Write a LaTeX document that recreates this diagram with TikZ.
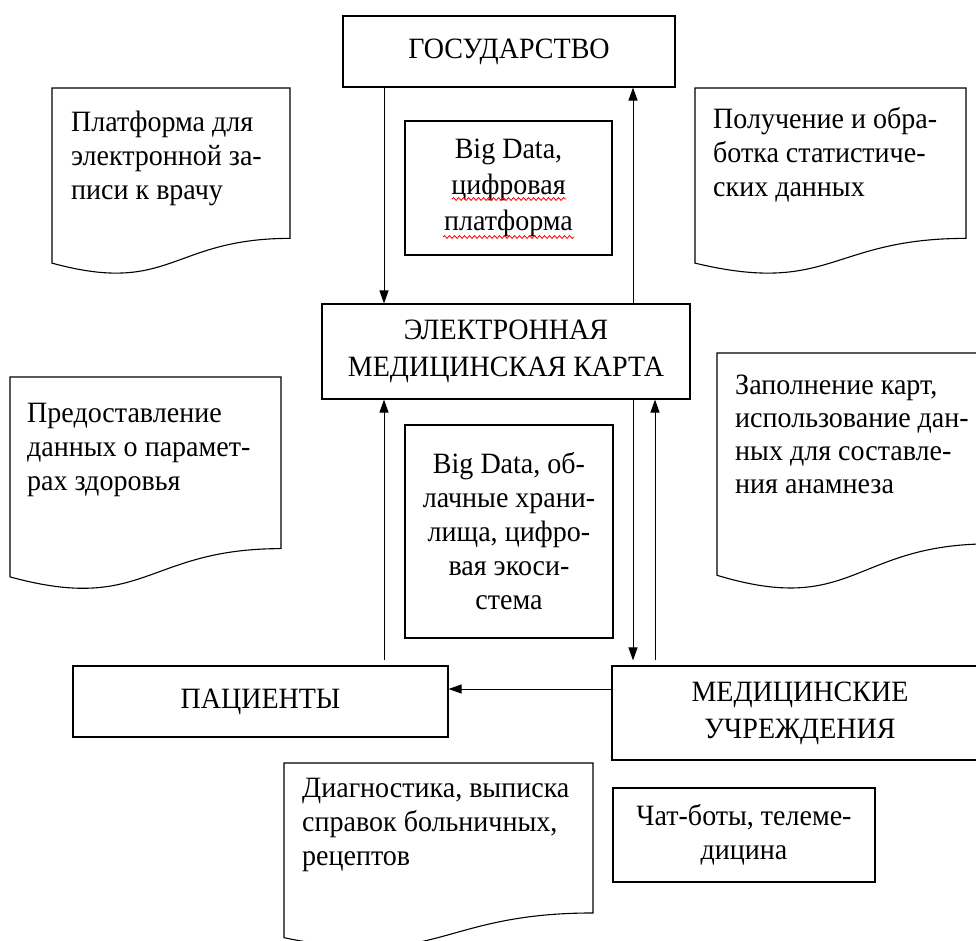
\documentclass[tikz,border=0pt]{standalone}
\usepackage{fontspec}
\setmainfont{Liberation Serif}[FakeStretch=0.95]
\usetikzlibrary{arrows.meta,decorations.pathmorphing}

\tikzset{
  every node/.style={font=\fontsize{29.5}{34}\selectfont},
  box/.style={draw, line width=1.1pt, inner sep=0pt, align=center},
  doctext/.style={anchor=north west, inner sep=0pt, align=left},
  link/.style={line width=1pt, -{Triangle[length=13pt,width=9pt]}},
  spell/.style={draw=red, line width=0.8pt, decorate,
    decoration={snake, amplitude=1.4pt, segment length=5pt}},
  docline/.style={draw, line width=1.1pt}
}

% flowchart "document" shape: x, y (top left), width, height
\newcommand{\docshape}[4]{%
  \draw[docline] (#1,#2) -- ({#1+#3},#2) -- ({#1+#3},{#2+0.802*#4})
    .. controls ({#1+0.5*#3},{#2+0.802*#4}) and ({#1+0.5*#3},{#2+1.1075*#4})
    .. (#1,{#2+0.934*#4}) -- cycle;}

\begin{document}
\begin{tikzpicture}[x=1pt, y=-1pt]
\useasboundingbox (0,0) rectangle (976,941);
\clip (0,0) rectangle (976,941);

% main blocks
\node[box, minimum width=332pt, minimum height=71pt] (gos) at (509,51.5) {ГОСУДАРСТВО};
\node[box, minimum width=368pt, minimum height=95pt] (emk) at (506,351.5)
  {ЭЛЕКТРОННАЯ\\[3pt]МЕДИЦИНСКАЯ КАРТА};
\node[box, minimum width=375pt, minimum height=71pt] (pac) at (260.5,701.5) {ПАЦИЕНТЫ};
\node[box, minimum width=376pt, minimum height=94pt] (med) at (800,713)
  {МЕДИЦИНСКИЕ\\[3pt]УЧРЕЖДЕНИЯ};

% technology blocks
\node[box, minimum width=207pt, minimum height=134pt] (bd1) at (508.5,188)
  {Big Data,\\[2pt]цифровая\\[2pt]платформа};
\node[box, minimum width=208pt, minimum height=213pt] (bd2) at (509,531.5)
  {Big Data, об-\\лачные храни-\\лища, цифро-\\вая экоси-\\стема};
\node[box, minimum width=262pt, minimum height=94pt] (chat) at (744,835)
  {Чат-боты, телеме-\\дицина};

% spell-check underlines
\draw[spell] (452,199) -- (566,199);
\draw[spell] (443,237) -- (574,237);

% document shapes with their notes
\docshape{52}{88}{238}{187.5}
\node[doctext] (d1) at (71,108) {\strut Платформа для\\электронной за-\\писи к врачу};
\docshape{695}{88}{271}{187.5}
\node[doctext] (d2) at (713,105) {\strut Получение и обра-\\ботка статистиче-\\ских данных};
\docshape{10}{377}{271}{214}
\node[doctext] (d3) at (27,398) {\strut Предоставление\\данных о парамет-\\рах здоровья};
\docshape{717}{353}{273}{238}
\node[doctext, font=\fontsize{29.5}{33}\selectfont] (d4) at (735,371)
  {\strut Заполнение карт,\\использование дан-\\ных для составле-\\ния анамнеза};
\docshape{284}{763}{309}{187}
\node[doctext] (d5) at (302,773) {\strut Диагностика, выписка\\справок больничных,\\рецептов};

% connector columns
\coordinate (cL) at (384,0);
\coordinate (cR) at (633,0);
\coordinate (cR2) at (655,0);
\coordinate (rowH) at (0,689);

\draw[link] (cL |- gos.south) -- (cL |- emk.north);
\draw[link] (cR |- emk.north) -- (cR |- gos.south);
\draw[link, shorten <=5pt] (cL |- pac.north) -- (cL |- emk.south);
\draw[link, shorten >=5pt] (cR |- emk.south) -- (cR |- med.north);
\draw[link, shorten <=5pt] (cR2 |- med.north) -- (cR2 |- emk.south);
\draw[link] (med.west |- rowH) -- (pac.east |- rowH);
\end{tikzpicture}
\end{document}
